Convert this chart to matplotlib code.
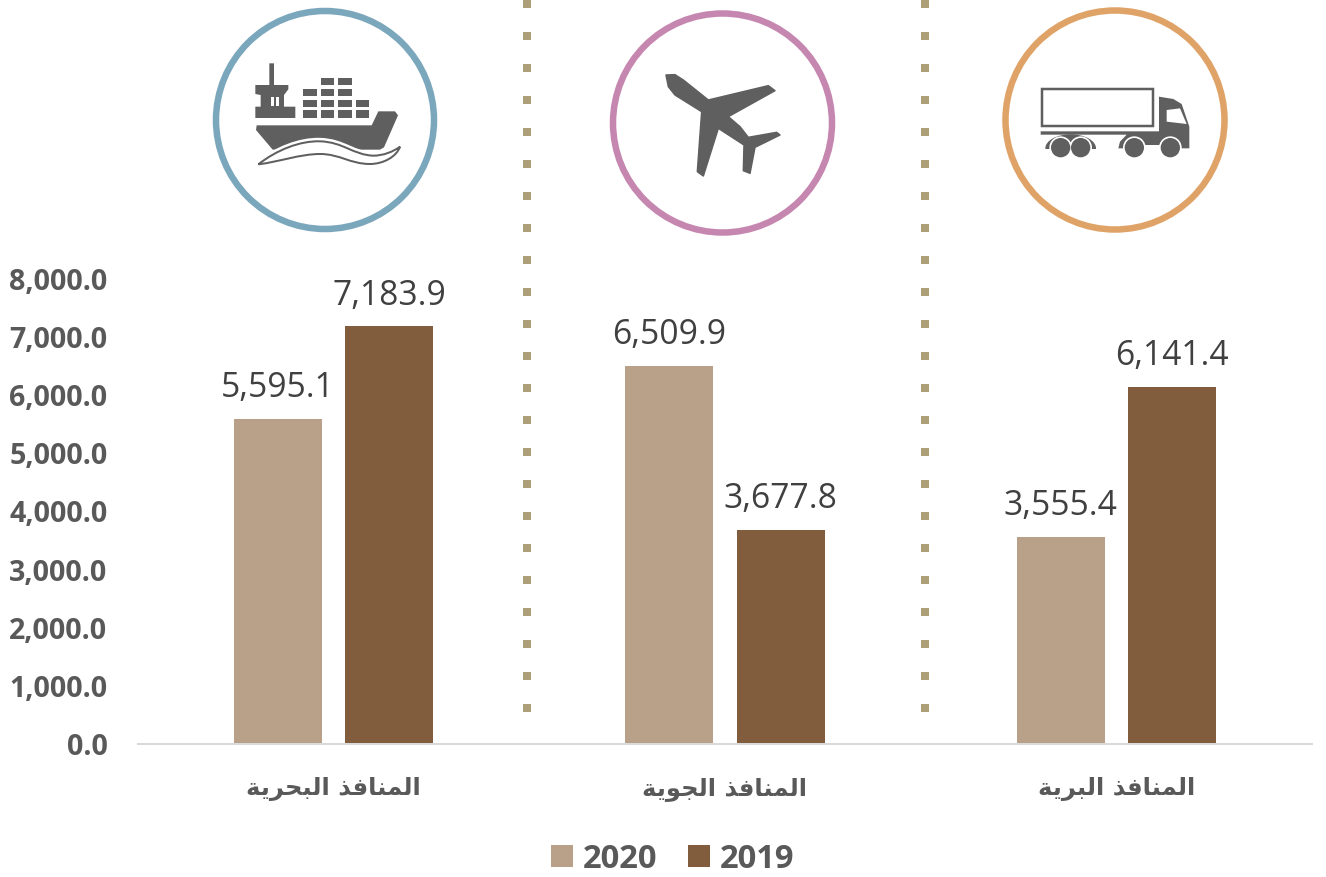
import matplotlib
matplotlib.use("Agg")
import matplotlib.pyplot as plt
import numpy as np
from matplotlib.patches import Circle, Ellipse, Polygon, PathPatch, Rectangle
from matplotlib.path import Path

# data
categories = ["المنافذ البحرية", "المنافذ الجوية", "المنافذ البرية"]
values_2020 = [5595.1, 6509.9, 3555.4]
values_2019 = [7183.9, 3677.8, 6141.4]
y_ticks = [0, 1000, 2000, 3000, 4000, 5000, 6000, 7000, 8000]

# colours
c_2020 = "#B9A088"
c_2019 = "#825D3D"
c_icon = "#5F5F5F"
c_dots = "#AD9F77"
c_label = "#404040"
c_axis = "#595959"

W, H = 1326, 877
PX = 0.72  # points per pixel at dpi 100

# forms: isolated, final, initial, medial
FORMS = {
    "ا": (0xFE8D, 0xFE8E), "ل": (0xFEDD, 0xFEDE, 0xFEDF, 0xFEE0),
    "م": (0xFEE1, 0xFEE2, 0xFEE3, 0xFEE4), "ن": (0xFEE5, 0xFEE6, 0xFEE7, 0xFEE8),
    "ف": (0xFED1, 0xFED2, 0xFED3, 0xFED4), "ذ": (0xFEAB, 0xFEAC),
    "ب": (0xFE8F, 0xFE90, 0xFE91, 0xFE92), "ح": (0xFEA1, 0xFEA2, 0xFEA3, 0xFEA4),
    "ر": (0xFEAD, 0xFEAE), "ي": (0xFEF1, 0xFEF2, 0xFEF3, 0xFEF4),
    "ة": (0xFE93, 0xFE94), "ج": (0xFE9D, 0xFE9E, 0xFE9F, 0xFEA0),
    "و": (0xFEED, 0xFEEE),
}

def shape(text):
    # matplotlib has no arabic shaping, so pick the joined glyphs and reverse
    out = []
    for i, ch in enumerate(text):
        if ch not in FORMS:
            out.append(ch)
            continue
        prev_joins = i > 0 and text[i - 1] in FORMS and len(FORMS[text[i - 1]]) == 4
        next_joins = i + 1 < len(text) and text[i + 1] in FORMS and len(FORMS[ch]) == 4
        idx = {(False, False): 0, (True, False): 1, (False, True): 2, (True, True): 3}[(prev_joins, next_joins)]
        out.append(chr(FORMS[ch][idx]))
    return "".join(out)[::-1]

fig = plt.figure(figsize=(W / 100, H / 100), dpi=100, facecolor="white")
ax = fig.add_axes([138 / W, (H - 744) / H, 1174 / W, 465 / H])

x = np.arange(len(categories))
bw = 88 / 391.3
off = 55.5 / 391.3
b1 = ax.bar(x - off, values_2020, bw, color=c_2020, label="2020")
b2 = ax.bar(x + off, values_2019, bw, color=c_2019, label="2019")

for bars in (b1, b2):
    ax.bar_label(bars, fmt="{:,.1f}", padding=10, fontsize=24.2, color=c_label, family="Open Sans")

ax.set_xlim(-0.5, 2.5)
ax.set_ylim(0, 8000)
ax.set_yticks(y_ticks)
ax.set_yticklabels([f"{v:,.1f}" for v in y_ticks], fontsize=20.6, fontweight="bold",
                   color=c_axis, family="Open Sans")
ax.set_xticks(x)
ax.set_xticklabels([shape(c) for c in categories], fontsize=17.5, fontweight="bold",
                   color=c_axis, family="DejaVu Sans")
ax.tick_params(axis="y", length=0, pad=22)
ax.tick_params(axis="x", length=0, pad=24)
for s in ("top", "left", "right"):
    ax.spines[s].set_visible(False)
ax.spines["bottom"].set_color("#D9D9D9")
ax.spines["bottom"].set_linewidth(2 * PX)

leg = ax.legend(loc="center", bbox_to_anchor=(672.5 / W, 1 - 859 / H), bbox_transform=fig.transFigure,
                ncol=2, frameon=False, handlelength=0.67, handleheight=0.67, handletextpad=0.3,
                columnspacing=0.95, prop={"family": "Open Sans", "weight": "bold", "size": 23.6})
for t in leg.get_texts():
    t.set_color(c_axis)

# overlay in pixel coordinates for separators and icons
ov = fig.add_axes([0, 0, 1, 1], zorder=5)
ov.set_xlim(0, W)
ov.set_ylim(H, 0)
ov.axis("off")
ov.patch.set_alpha(0)

for sep_x in (527, 925):
    ov.plot([sep_x, sep_x], [0, 712], color=c_dots, lw=8 * PX, ls=(0, (1, 3)), dash_capstyle="butt")

ov.add_patch(Circle((325, 120), 109, fc="white", ec="#7BA7BC", lw=6.5 * PX))
ov.add_patch(Circle((722.5, 123), 109.5, fc="white", ec="#C587B0", lw=6.5 * PX))
ov.add_patch(Circle((1115, 120), 109.5, fc="white", ec="#E0A367", lw=6.5 * PX))

def zp(points, ox):
    return [(ox + a / 3, b / 3) for a, b in points]

def zrect(x0, y0, x1, y1, ox, **kw):
    ov.add_patch(Rectangle((ox + x0 / 3, y0 / 3), (x1 - x0) / 3, (y1 - y0) / 3, **kw))

# ship
ship_ox = 200
ov.add_patch(Polygon(zp([(170, 376), (515, 376), (535, 334), (585, 334), (594, 346), (552, 442),
                         (540, 449), (218, 449), (168, 390)], ship_ox), fc=c_icon, ec="none"))
ov.add_patch(Polygon(zp([(208, 255), (208, 190), (222, 190), (222, 255), (265, 255), (265, 268), (252, 285),
                         (252, 320), (286, 320), (286, 354), (166, 354), (166, 320), (182, 320), (182, 285),
                         (166, 282), (166, 255)], ship_ox), fc=c_icon, ec="none"))
zrect(214, 290, 236, 318, ship_ox, fc="white", ec="none")
zrect(223, 290, 227, 318, ship_ox, fc=c_icon, ec="none")
for row_y, xs in ((234, (362, 415)), (266, (309, 362, 415)), (299, (309, 362, 415, 467)), (331, (309, 362, 415, 467))):
    for cx in xs:
        zrect(cx, row_y, cx + 41, row_y + 22, ship_ox, fc=c_icon, ec="none")
wave = Path(zp([(175, 493), (230, 450), (300, 422), (360, 424), (430, 426), (460, 465), (520, 467),
                (550, 467), (580, 455), (600, 440), (590, 470), (550, 492), (510, 492),
                (450, 492), (420, 462), (360, 462), (300, 462), (240, 485), (175, 493)], ship_ox),
            [Path.MOVETO] + [Path.CURVE4] * 18)
ov.add_patch(PathPatch(wave, fc="white", ec="white", lw=7 * PX))
ov.add_patch(PathPatch(wave, fc="white", ec=c_icon, lw=2 * PX))

# plane
plane_ox = 600
ov.add_patch(Polygon(zp([(198, 225), (225, 224), (250, 240), (325, 300), (505, 257), (525, 272), (385, 350),
                         (420, 380), (445, 412), (530, 397), (540, 405), (465, 442), (450, 520), (430, 512),
                         (432, 435), (355, 385), (310, 528), (292, 515), (305, 335), (225, 285),
                         (205, 260)], plane_ox), fc=c_icon, ec=c_icon, lw=1.5 * PX, joinstyle="round"))

# truck
truck_ox = 990
zrect(156, 267, 490, 377, truck_ox, fc="white", ec=c_icon, lw=2.5 * PX)
ov.add_patch(Ellipse((truck_ox + 242 / 3, 445 / 3), 152 / 3, 84 / 3, fc=c_icon, ec="none"))
ov.add_patch(Polygon(zp([(507, 290), (550, 297), (575, 312), (598, 380), (598, 445), (385, 445), (390, 425),
                         (410, 404), (152, 404), (152, 394), (507, 394)], truck_ox), fc=c_icon, ec="none"))
zrect(150, 446, 600, 495, truck_ox, fc="white", ec="none")
zrect(465, 434, 515, 446, truck_ox, fc="white", ec="none")
ov.add_patch(Polygon(zp([(530, 330), (570, 325), (590, 372), (530, 365)], truck_ox), fc="white", ec="none"))
for wx in (212, 272, 433, 541):
    ov.add_patch(Circle((truck_ox + wx / 3, 443 / 3), 34 / 3, fc="white", ec="none"))
for wx in (212, 272, 433, 541):
    ov.add_patch(Circle((truck_ox + wx / 3, 443 / 3), 29 / 3, fc=c_icon, ec="none"))

fig.savefig("out.png", dpi=100)
